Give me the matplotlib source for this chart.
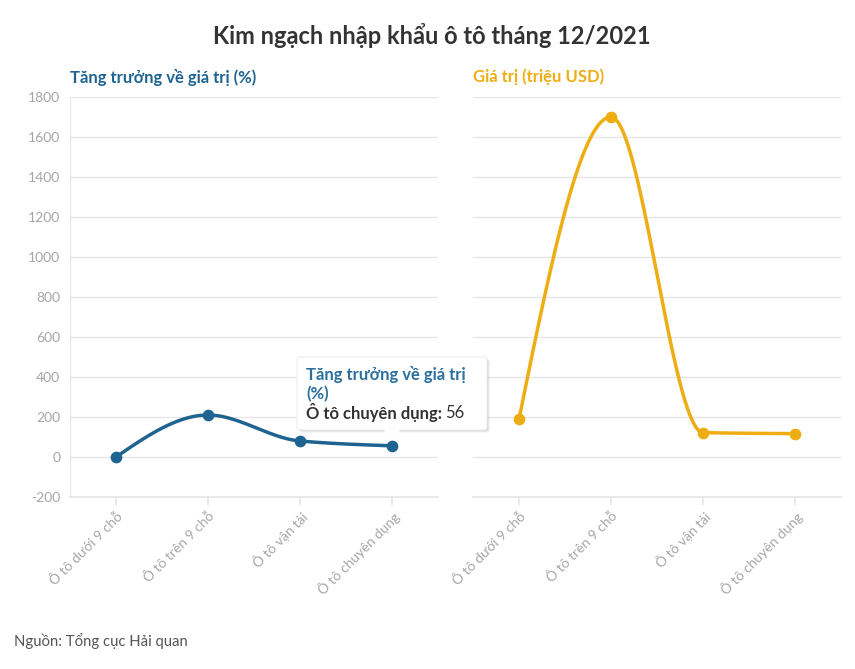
import numpy as np
import matplotlib
matplotlib.use("Agg")
import matplotlib.pyplot as plt
from matplotlib.patches import FancyBboxPatch, Polygon

plt.rcParams['font.family'] = ['Lato', 'DejaVu Sans']
plt.rcParams['axes.unicode_minus'] = False

categories = ["Ô tô dưới 9 chỗ", "Ô tô trên 9 chỗ", "Ô tô vận tải", "Ô tô chuyên dụng"]
growth = [0, 210, 80, 56]
value = [190, 1700, 122, 117]
yticks = [-200, 0, 200, 400, 600, 800, 1000, 1200, 1400, 1600, 1800]

BLUE = "#1f6491"
ORANGE = "#efad14"
GRID = "#e6e6e6"
TICKC = "#a6a6a6"


def monotone(xs, ys, n=200):
    xs = np.asarray(xs, float); ys = np.asarray(ys, float)
    h = np.diff(xs); d = np.diff(ys) / h
    m = np.zeros_like(ys)
    for i in range(1, len(ys) - 1):
        if d[i - 1] * d[i] <= 0:
            m[i] = 0
        else:
            m[i] = (3 * (h[i - 1] + h[i])) / ((2 * h[i] + h[i - 1]) / d[i - 1] + (h[i] + 2 * h[i - 1]) / d[i])
    m[0] = (3 * d[0] - m[1]) / 2 if d[0] * (3 * d[0] - m[1]) > 0 else 0
    m[-1] = (3 * d[-1] - m[-2]) / 2 if d[-1] * (3 * d[-1] - m[-2]) > 0 else 0
    X, Y = [], []
    for i in range(len(xs) - 1):
        t = np.linspace(0, 1, n)
        h00 = 2 * t**3 - 3 * t**2 + 1; h10 = t**3 - 2 * t**2 + t
        h01 = -2 * t**3 + 3 * t**2; h11 = t**3 - t**2
        X.append(xs[i] + t * h[i])
        Y.append(h00 * ys[i] + h10 * h[i] * m[i] + h01 * ys[i + 1] + h11 * h[i] * m[i + 1])
    return np.concatenate(X), np.concatenate(Y)


fig = plt.figure(figsize=(8.55, 6.69), dpi=100)
W, H = 855, 669
axL = fig.add_axes([70 / W, 1 - 497 / H, 368 / W, 400 / H])
axR = fig.add_axes([473 / W, 1 - 497 / H, 368 / W, 400 / H])

x = np.arange(len(categories))
for ax, data, col in [(axL, growth, BLUE), (axR, value, ORANGE)]:
    ax.set_xlim(-0.5, 3.5)
    ax.set_ylim(-200, 1800)
    ax.set_yticks(yticks)
    ax.grid(axis='y', color=GRID, linewidth=1)
    ax.set_axisbelow(True)
    for s in ['top', 'right']:
        ax.spines[s].set_visible(False)
    ax.spines['bottom'].set_color(GRID)
    ax.spines['bottom'].set_linewidth(1.2)
    ax.set_xticks(x)
    ax.set_xticklabels(categories, rotation=45, ha='right', rotation_mode='anchor',
                       fontsize=10, color=TICKC)
    ax.tick_params(axis='x', length=6, color=GRID, width=1.2, pad=3)
    sx, sy = monotone(x, data)
    ax.plot(sx, sy, color=col, linewidth=2.5, solid_capstyle='round', zorder=3)
    ax.scatter(x, data, color=col, s=55, zorder=4)

axL.spines['left'].set_color(GRID)
axL.tick_params(axis='y', length=0, labelsize=10, labelcolor=TICKC, pad=7)
axR.spines['left'].set_visible(False)
axR.tick_params(axis='y', length=0, labelleft=False)

fig.text(0.5 + 4 / W, 1 - 36 / H, "Kim ngạch nhập khẩu ô tô tháng 12/2021", ha='center', va='center',
         fontsize=17, fontweight='bold', color='#333333')
fig.text(70 / W, 1 - 77 / H, "Tăng trưởng về giá trị (%)", ha='left', va='center',
         fontsize=12, fontweight='bold', color=BLUE)
fig.text(473 / W, 1 - 77 / H, "Giá trị (triệu USD)", ha='left', va='center',
         fontsize=12, fontweight='bold', color=ORANGE)
fig.text(14 / W, 1 - 641 / H, "Nguồn: Tổng cục Hải quan", ha='left', va='center',
         fontsize=10.7, color='#555555')

bx0, by0, bx1, by1 = 297, 357, 487, 430
for off, a in [(3, 0.04), (2, 0.06), (1, 0.08)]:
    sh = FancyBboxPatch((bx0 / W + off / W, 1 - (by1 + off) / H), (bx1 - bx0) / W, (by1 - by0) / H,
                        boxstyle="round,pad=0,rounding_size=0.004", transform=fig.transFigure,
                        facecolor='black', alpha=a, edgecolor='none', zorder=9)
    fig.add_artist(sh)
box = FancyBboxPatch((bx0 / W, 1 - by1 / H), (bx1 - bx0) / W, (by1 - by0) / H,
                     boxstyle="round,pad=0,rounding_size=0.004", transform=fig.transFigure,
                     facecolor='white', edgecolor='#eeeeee', linewidth=0.8, zorder=10)
fig.add_artist(box)
tri = Polygon([(383 / W, 1 - 429.5 / H), (401 / W, 1 - 429.5 / H), (392 / W, 1 - 439 / H)],
              closed=True, transform=fig.transFigure, facecolor='white', edgecolor='none', zorder=11)
fig.add_artist(tri)
fig.text(306 / W, 1 - 375 / H, "Tăng trưởng về giá trị", ha='left', va='center',
         fontsize=12, fontweight='bold', color='#2a6f9e', zorder=12)
fig.text(306 / W, 1 - 394 / H, "(%)", ha='left', va='center',
         fontsize=12, fontweight='bold', color='#2a6f9e', zorder=12)
t1 = fig.text(306 / W, 1 - 413 / H, "Ô tô chuyên dụng:", ha='left', va='center',
              fontsize=12, fontweight='bold', color='#333333', zorder=12)
fig.canvas.draw()
bb = t1.get_window_extent()
fig.text(bb.x1 / W + 3 / W, 1 - 413 / H, "56", ha='left', va='center',
         fontsize=12, color='#333333', zorder=12)

fig.savefig("out.png", dpi=100)
